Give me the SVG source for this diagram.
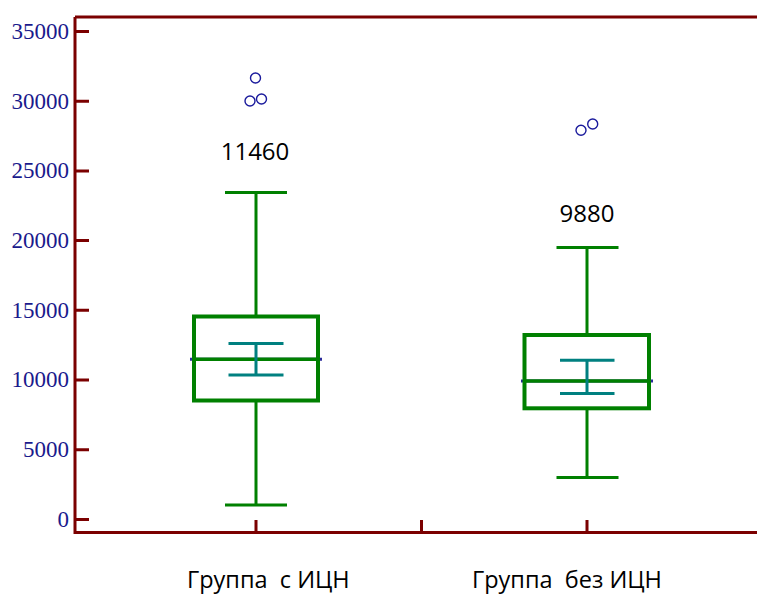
<svg xmlns="http://www.w3.org/2000/svg" width="757" height="595" viewBox="0 0 757 595">
<style>
.axis{stroke:#7b0000;stroke-width:3;fill:none}
.ylab{font-family:"Liberation Serif","Times New Roman",serif;font-size:23px;fill:#1a1a8c;text-anchor:end}
.box{stroke:#008000;stroke-width:4;fill:none}
.wh{stroke:#008000;stroke-width:3;fill:none}
.ci{stroke:#008080;stroke-width:3;fill:none}
.med{stroke:#2b2b9b;stroke-width:3}
.out{stroke:#1a1a9c;stroke-width:1.4;fill:none}
.val{font-family:"Open Sans","Noto Sans",sans-serif;font-size:24px;fill:#000;text-anchor:middle}
.cat{font-family:"Open Sans","Noto Sans",sans-serif;font-size:23.5px;fill:#000;white-space:pre}
</style>
<rect width="757" height="595" fill="#fff"/>
<g id="axes">
<path class="axis" d="M75,17H757M75,17V532.5H757"/>
<path class="axis" d="M75,31.5H89M75,101.2H89M75,170.9H89M75,240.6H89M75,310.3H89M75,380H89M75,449.8H89M75,519.5H89"/>
<path class="axis" d="M256,532.5V520M421.5,532.5V520M587,532.5V520"/>
<text class="ylab" x="69" y="38.8">35000</text>
<text class="ylab" x="69" y="108.5">30000</text>
<text class="ylab" x="69" y="178.2">25000</text>
<text class="ylab" x="69" y="247.9">20000</text>
<text class="ylab" x="69" y="317.6">15000</text>
<text class="ylab" x="69" y="387.3">10000</text>
<text class="ylab" x="69" y="457.1">5000</text>
<text class="ylab" x="69" y="526.8">0</text>
<text class="cat" x="187" y="587.5">Группа  с ИЦН</text>
<text class="cat" x="472" y="587.5">Группа  без ИЦН</text>
</g>
<g id="group1">
<path class="wh" d="M256,192.5V316.5M256,400.5V505M225,192.5H287M225,505H287"/>
<line class="med" x1="190" y1="359.3" x2="322" y2="359.3"/>
<rect class="box" x="194" y="316.5" width="124" height="84"/>
<line x1="194" y1="359.3" x2="318" y2="359.3" stroke="#008000" stroke-width="3.5"/>
<path class="ci" d="M228.5,343.5H283.5M228.5,375H283.5M256,343.5V375"/>
<circle class="out" cx="255.5" cy="78" r="5"/>
<circle class="out" cx="250" cy="101" r="5"/>
<circle class="out" cx="261.5" cy="99" r="5"/>
<text class="val" x="255" y="160">11460</text>
</g>
<g id="group2">
<path class="wh" d="M587,247.5V335M587,408.3V477.5M556.5,247.5H618.5M556.5,477.5H618.5"/>
<line class="med" x1="521" y1="381" x2="653" y2="381"/>
<rect class="box" x="524.5" y="335" width="124.5" height="73.3"/>
<line x1="524.5" y1="381" x2="649" y2="381" stroke="#008000" stroke-width="3.5"/>
<path class="ci" d="M560,360.3H614.5M560,393.5H614.5M587,360.3V393.5"/>
<circle class="out" cx="581" cy="130.3" r="5"/>
<circle class="out" cx="592.7" cy="124" r="5"/>
<text class="val" x="587" y="222">9880</text>
</g>
</svg>
